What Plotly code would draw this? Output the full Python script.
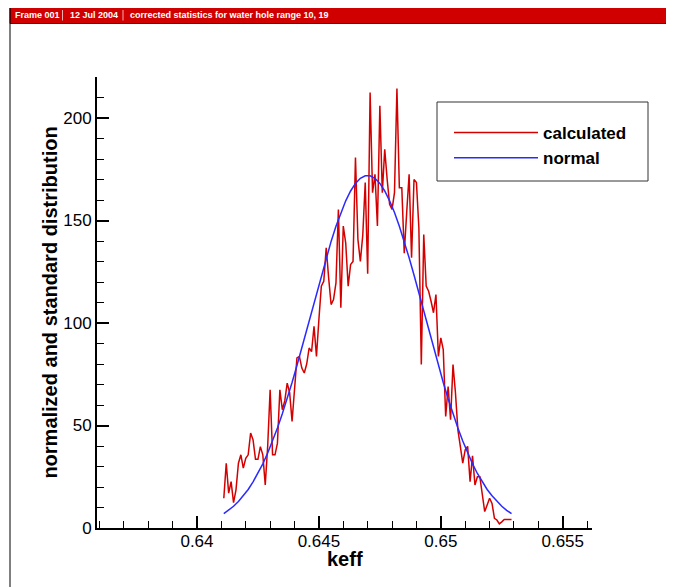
import plotly.graph_objects as go

# keff bins of the "calculated" distribution (step 0.0001)
keff = [
    0.6411, 0.6412, 0.6413, 0.6414, 0.6415, 0.6416, 0.6417, 0.6418, 0.6419, 0.6420,
    0.6421, 0.6422, 0.6423, 0.6424, 0.6425, 0.6426, 0.6427, 0.6428, 0.6429, 0.6430,
    0.6431, 0.6432, 0.6433, 0.6434, 0.6435, 0.6436, 0.6437, 0.6438, 0.6439, 0.6440,
    0.6441, 0.6442, 0.6443, 0.6444, 0.6445, 0.6446, 0.6447, 0.6448, 0.6449, 0.6450,
    0.6451, 0.6452, 0.6453, 0.6454, 0.6455, 0.6456, 0.6457, 0.6458, 0.6459, 0.6460,
    0.6461, 0.6462, 0.6463, 0.6464, 0.6465, 0.6466, 0.6467, 0.6468, 0.6469, 0.6470,
    0.6471, 0.6472, 0.6473, 0.6474, 0.6475, 0.6476, 0.6477, 0.6478, 0.6479, 0.6480,
    0.6481, 0.6482, 0.6483, 0.6484, 0.6485, 0.6486, 0.6487, 0.6488, 0.6489, 0.6490,
    0.6491, 0.6492, 0.6493, 0.6494, 0.6495, 0.6496, 0.6497, 0.6498, 0.6499, 0.6500,
    0.6501, 0.6502, 0.6503, 0.6504, 0.6505, 0.6506, 0.6507, 0.6508, 0.6509, 0.6510,
    0.6511, 0.6512, 0.6513, 0.6514, 0.6515, 0.6516, 0.6517, 0.6518, 0.6519, 0.6520,
    0.6521, 0.6522, 0.6523, 0.6524, 0.6525, 0.6526, 0.6527, 0.6528, 0.6529,
]
calculated = [
    14.5, 31.6, 17.0, 22.6, 12.4, 18.6, 31.6, 35.7, 29.2, 34.0,
    35.7, 46.3, 43.0, 33.5, 33.5, 39.7, 35.7, 21.0, 40.0, 67.4,
    35.7, 35.7, 41.4, 67.4, 57.7, 62.0, 70.7, 66.0, 52.0, 70.0,
    83.0, 83.7, 78.0, 75.6, 80.0, 87.8, 86.0, 98.4, 83.7, 101.7,
    118.0, 120.4, 136.7, 122.0, 109.0, 111.4, 119.6, 155.4, 107.4, 147.3,
    139.0, 118.0, 128.5, 130.0, 180.7, 140.8, 130.0, 143.0, 168.5, 124.0,
    212.4, 163.6, 172.5, 147.3, 206.0, 163.6, 184.7, 170.0, 157.9, 155.4,
    163.6, 214.4, 166.0, 166.0, 134.0, 153.8, 172.5, 131.8, 170.0, 168.5,
    146.5, 79.7, 143.2, 118.0, 115.5, 110.6, 105.0, 113.9, 83.7, 92.7,
    87.0, 54.4, 69.0, 52.8, 79.7, 66.0, 47.9, 39.8, 31.6, 38.1,
    39.8, 22.6, 35.2, 21.0, 25.0, 25.0, 16.9, 8.0, 11.2, 14.5,
    12.0, 4.7, 3.9, 2.0, 3.0, 4.2, 4.2, 4.2, 4.2,
]

# fitted normal curve (step 0.0002)
keff_normal = [
    0.6411, 0.6413, 0.6415, 0.6417, 0.6419, 0.6421, 0.6423, 0.6425, 0.6427, 0.6429,
    0.6431, 0.6433, 0.6435, 0.6437, 0.6439, 0.6441, 0.6443, 0.6445, 0.6447, 0.6449,
    0.6451, 0.6453, 0.6455, 0.6457, 0.6459, 0.6461, 0.6463, 0.6465, 0.6467, 0.6469,
    0.6471, 0.6473, 0.6475, 0.6477, 0.6479, 0.6481, 0.6483, 0.6485, 0.6487, 0.6489,
    0.6491, 0.6493, 0.6495, 0.6497, 0.6499, 0.6501, 0.6503, 0.6505, 0.6507, 0.6509,
    0.6511, 0.6513, 0.6515, 0.6517, 0.6519, 0.6521, 0.6523, 0.6525, 0.6527, 0.6529,
]
normal = [
    7.0, 8.6, 10.6, 12.9, 15.7, 18.8, 22.5, 26.6, 31.3, 36.6,
    42.4, 48.8, 55.7, 63.1, 71.0, 79.3, 87.9, 96.7, 105.7, 114.6,
    123.4, 131.8, 139.8, 147.2, 153.9, 159.6, 164.4, 168.1, 170.6, 171.8,
    171.8, 170.6, 168.1, 164.4, 159.6, 153.9, 147.2, 139.8, 131.8, 123.4,
    114.6, 105.7, 96.7, 87.9, 79.3, 71.0, 63.1, 55.7, 48.8, 42.4,
    36.6, 31.3, 26.6, 22.5, 18.8, 15.7, 12.9, 10.6, 8.6, 7.0,
]

x_ticks = [0.64, 0.645, 0.65, 0.655]
x_ticktext = ["0.64", "0.645", "0.65", "0.655"]
y_ticks = [0, 50, 100, 150, 200]

FONT = "Liberation Sans, Arial, Helvetica, sans-serif"

# the page puts the figure 8px in from the corner; sizes are for the figure itself
OFF = 8
W, H = 666, 579
L, R, T, B = 89, 82, 69, 59
PW, PH = W - L - R, H - T - B


def px(x):
    # page x pixel -> paper x
    return (x - OFF - L) / PW


def py(y):
    # page y pixel -> paper y
    return (H - B - (y - OFF)) / PH


fig = go.Figure()
fig.add_trace(go.Scatter(x=keff, y=calculated, mode="lines", name="calculated",
                         line=dict(color="#d40000", width=1.5)))
fig.add_trace(go.Scatter(x=keff_normal, y=normal, mode="lines", name="normal",
                         line=dict(color="#2a2aff", width=1.5)))

axis_common = dict(
    showline=True, linecolor="black", linewidth=2, mirror=False,
    showgrid=False, zeroline=False,
    ticks="inside", ticklen=12, tickwidth=2, tickcolor="black",
    tickfont=dict(family=FONT, size=17, color="black"),
)

fig.update_xaxes(
    range=[0.6359, 0.6562], tickmode="array", tickvals=x_ticks, ticktext=x_ticktext,
    ticklabelstandoff=-3,
    minor=dict(tickmode="linear", tick0=0.636, dtick=0.001, ticks="inside",
               ticklen=7, tickwidth=1, tickcolor="black", showgrid=False),
    **axis_common,
)
fig.update_yaxes(
    range=[0, 220], tickmode="array", tickvals=y_ticks,
    minor=dict(tickmode="linear", tick0=0, dtick=10, ticks="inside",
               ticklen=7, tickwidth=1, tickcolor="black", showgrid=False),
    title=dict(text="normalized and standard distribution",
               font=dict(family=FONT, size=20, color="black", weight="bold"), standoff=0),
    **axis_common,
)

shapes = [
    # outer frame
    dict(type="rect", xref="paper", yref="paper", x0=px(10), x1=px(667), y0=py(620), y1=py(7),
         line=dict(color="black", width=1), fillcolor="rgba(0,0,0,0)", layer="above"),
    # header bar
    dict(type="rect", xref="paper", yref="paper", x0=px(10), x1=px(667), y0=py(23.5), y1=py(7),
         line=dict(color="#7a0000", width=1), fillcolor="#d00000", layer="below"),
    # legend box
    dict(type="rect", xref="paper", yref="paper", x0=px(437), x1=px(648), y0=py(181), y1=py(102),
         line=dict(color="#333333", width=1), fillcolor="rgba(0,0,0,0)"),
]
for sx in [62.5, 123]:
    shapes.append(dict(type="line", xref="paper", yref="paper", x0=px(sx), x1=px(sx),
                       y0=py(20.5), y1=py(10), line=dict(color="#f3b0b0", width=1)))

header_parts = [(13, "Frame 001"), (68, "12 Jul 2004"),
                (128, "corrected statistics for water hole range 10, 19")]
annotations = [
    dict(xref="paper", yref="paper", x=px(hx), y=py(15.5), xanchor="left", yanchor="middle",
         text=txt, showarrow=False,
         font=dict(family=FONT, size=9, color="white", weight="bold"))
    for hx, txt in header_parts
]
# x axis title
annotations.append(dict(xref="paper", yref="paper", x=px(345), y=py(559), xanchor="center",
                        yanchor="middle", text="keff", showarrow=False,
                        font=dict(family=FONT, size=20, color="black", weight="bold")))

fig.update_layout(
    width=W, height=H,
    margin=dict(l=L, r=R, t=T, b=B),
    paper_bgcolor="white", plot_bgcolor="white",
    shapes=shapes, annotations=annotations,
    showlegend=True,
    legend=dict(x=px(449), y=py(115), xanchor="left", yanchor="top",
                bgcolor="rgba(0,0,0,0)", borderwidth=0, itemwidth=84,
                font=dict(family=FONT, size=17, color="black", weight="bold")),
)

fig.write_html("out.html")
